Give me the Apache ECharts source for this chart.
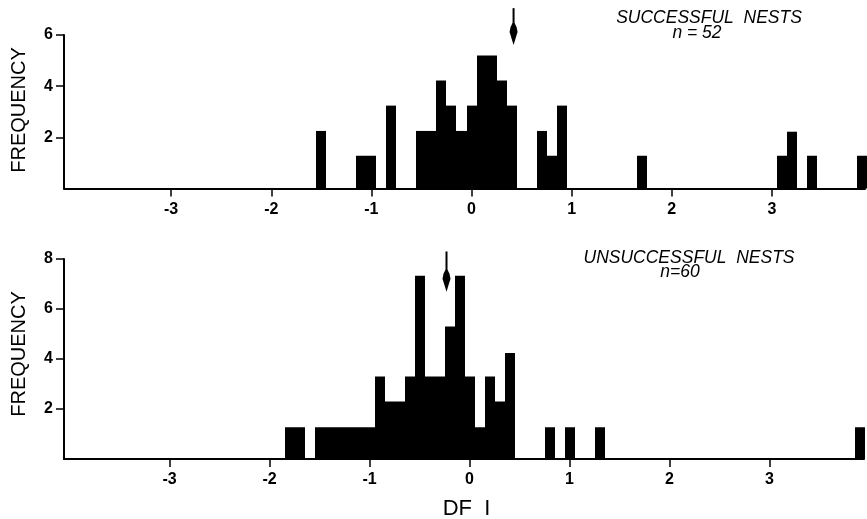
<!DOCTYPE html>
<html>
<head>
<meta charset="utf-8">
<script src="https://cdn.jsdelivr.net/npm/echarts@6/dist/echarts.min.js"></script>
<style>
html,body{margin:0;padding:0;background:#fff;}
#chart{width:867px;height:519px;}
</style>
</head>
<body>
<div id="chart"></div>
<script>
// ---- data (bar heights read against each panel's y axis) ----
const binWidth = 0.1;
const xTicks = [-3, -2, -1, 0, 1, 2, 3];

const successBins    = [-1.5, -1.1, -1.0, -0.8, -0.5, -0.4, -0.3, -0.2, -0.1, 0.0, 0.1, 0.2, 0.3, 0.4, 0.7, 0.8, 0.9, 1.7, 3.1, 3.2, 3.4, 3.9];
const successHeights = [2.25, 1.28, 1.28, 3.24, 2.25, 2.25, 4.22, 3.24, 2.25, 3.24, 5.2, 5.2, 4.22, 3.24, 2.25, 1.28, 3.24, 1.28, 1.28, 2.22, 1.28, 1.28];
const successYTicks  = [2, 4, 6];
const successMean    = 0.42;
const successArrowY  = [5.61, 7.05];   // tip, tail

const failBins    = [-1.8, -1.7, -1.5, -1.4, -1.3, -1.2, -1.1, -1.0, -0.9, -0.8, -0.7, -0.6, -0.5, -0.4, -0.3, -0.2, -0.1, 0.0, 0.1, 0.2, 0.3, 0.4, 0.8, 1.0, 1.3, 3.9];
const failHeights = [1.27, 1.27, 1.27, 1.27, 1.27, 1.27, 1.27, 1.27, 3.3, 2.3, 2.3, 3.3, 7.33, 3.3, 3.3, 5.3, 7.33, 3.3, 1.27, 3.3, 2.3, 4.24, 1.27, 1.27, 1.27, 1.27];
const failYTicks  = [2, 4, 6, 8];
const failMean    = -0.23;
const failArrowY  = [6.69, 8.3];

const successTitle = 'SUCCESSFUL  NESTS';
const successN     = 'n = 52';
const failTitle    = 'UNSUCCESSFUL  NESTS';
const failN        = 'n=60';
const yName = 'FREQUENCY';
const xName = 'DF  I';

// ---- rendering ----
const FONT = '"Liberation Sans", Arial, sans-serif';

function barItem(params, api) {
  const x = api.value(0), h = api.value(1);
  const p0 = api.coord([x - binWidth / 2, 0]);
  const p1 = api.coord([x + binWidth / 2, h]);
  const x0 = Math.round(p0[0]), x1 = Math.round(p1[0]);
  return {
    type: 'rect',
    shape: { x: x0, y: p1[1], width: x1 - x0, height: p0[1] - p1[1] },
    style: { fill: '#000' }
  };
}

const headShape = [[0, 0], [4, -13], [3, -18], [1, -22], [-1, -22], [-3, -18], [-4, -13]];
function arrowItem(params, api) {
  const tip = api.coord([api.value(0), api.value(1)]);
  const tail = api.coord([api.value(0), api.value(2)]);
  return {
    type: 'group',
    children: [
      { type: 'line', shape: { x1: tip[0], y1: tail[1], x2: tip[0], y2: tip[1] - 18 }, style: { stroke: '#000', lineWidth: 2 } },
      { type: 'polygon', shape: { points: headShape.map(([dx, dy]) => [tip[0] + dx, tip[1] + dy]) }, style: { fill: '#000' } }
    ]
  };
}

function xAxisCfg(idx, min, max) {
  return {
    type: 'value', gridIndex: idx, min: min, max: max,
    axisLine: { onZero: false, lineStyle: { color: '#000', width: 2 } },
    axisTick: { customValues: xTicks, length: 8, lineStyle: { color: '#000', width: 1.5 } },
    axisLabel: { customValues: xTicks, color: '#000', fontSize: 16, fontWeight: 'bold', fontFamily: FONT, margin: 13 },
    splitLine: { show: false }
  };
}
function yAxisCfg(idx, max, ticks) {
  return {
    type: 'value', gridIndex: idx, min: 0, max: max,
    axisLine: { show: true, onZero: false, lineStyle: { color: '#000', width: 2 } },
    axisTick: { show: true, customValues: ticks, length: 8, lineStyle: { color: '#000', width: 1.5 } },
    axisLabel: { customValues: ticks, color: '#000', fontSize: 16, fontWeight: 'bold', fontFamily: FONT, margin: 11 },
    splitLine: { show: false }
  };
}

const chart = echarts.init(document.getElementById('chart'), null, { renderer: 'canvas' });
chart.setOption({
  backgroundColor: '#fff',
  animation: false,
  grid: [
    { left: 64, right: 2, top: 35, height: 153.5 },
    { left: 64, right: 3, top: 259, height: 200 }
  ],
  xAxis: [xAxisCfg(0, -4.07, 3.93), xAxisCfg(1, -4.055, 3.945)],
  yAxis: [yAxisCfg(0, 6, successYTicks), yAxisCfg(1, 8, failYTicks)],
  series: [
    { type: 'custom', xAxisIndex: 0, yAxisIndex: 0, renderItem: barItem, encode: { x: 0, y: 1 },
      data: successBins.map((b, i) => [b, successHeights[i]]) },
    { type: 'custom', xAxisIndex: 1, yAxisIndex: 1, renderItem: barItem, encode: { x: 0, y: 1 },
      data: failBins.map((b, i) => [b, failHeights[i]]) },
    { type: 'custom', xAxisIndex: 0, yAxisIndex: 0, renderItem: arrowItem, encode: { x: 0, y: 1 }, clip: false,
      data: [[successMean, successArrowY[0], successArrowY[1]]] },
    { type: 'custom', xAxisIndex: 1, yAxisIndex: 1, renderItem: arrowItem, encode: { x: 0, y: 1 }, clip: false,
      data: [[failMean, failArrowY[0], failArrowY[1]]] }
  ],
  graphic: [
    { type: 'text', x: 709, y: 18, style: { text: successTitle, font: 'italic 17.5px ' + FONT, fill: '#000', align: 'center', verticalAlign: 'middle' } },
    { type: 'text', x: 697, y: 33, style: { text: successN, font: 'italic 17.5px ' + FONT, fill: '#000', align: 'center', verticalAlign: 'middle' } },
    { type: 'text', x: 689, y: 258, style: { text: failTitle, font: 'italic 17.5px ' + FONT, fill: '#000', align: 'center', verticalAlign: 'middle' } },
    { type: 'text', x: 680, y: 272, style: { text: failN, font: 'italic 17.5px ' + FONT, fill: '#000', align: 'center', verticalAlign: 'middle' } },
    { type: 'text', x: 19.5, y: 110, rotation: Math.PI / 2, style: { text: yName, font: '20px ' + FONT, fill: '#000', align: 'center', verticalAlign: 'middle' } },
    { type: 'text', x: 19.5, y: 354, rotation: Math.PI / 2, style: { text: yName, font: '20px ' + FONT, fill: '#000', align: 'center', verticalAlign: 'middle' } },
    { type: 'text', x: 466.5, y: 508.5, style: { text: xName, font: '22px ' + FONT, fill: '#000', align: 'center', verticalAlign: 'middle' } }
  ]
});
</script>
</body>
</html>
